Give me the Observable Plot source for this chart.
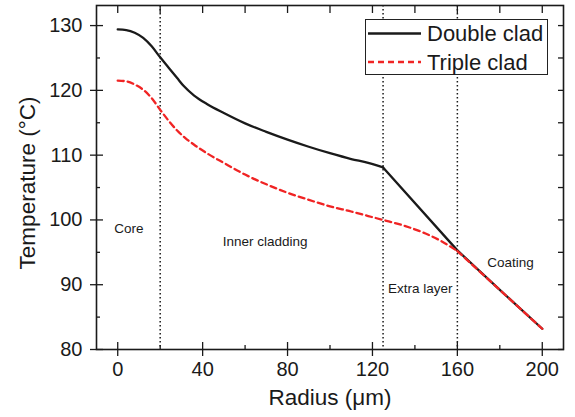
<!DOCTYPE html>
<html>
<head>
<meta charset="utf-8">
<script src="https://cdn.jsdelivr.net/npm/d3@7"></script>
<script src="https://cdn.jsdelivr.net/npm/@observablehq/plot@0.6"></script>
<style>
  html, body { margin: 0; padding: 0; background: white; }
  #wrap { position: relative; width: 575px; height: 417px; font-family: "Liberation Sans", Arial, sans-serif; }
  #legend { position: absolute; left: 365px; top: 19px; width: 183px; height: 56px; border: 1px solid #222; background: white; box-sizing: border-box; }
  #legend svg { position: absolute; left: 0; top: 0; }
</style>
</head>
<body>
<div id="wrap"></div>
<script>
// Double clad series
const doubleR = [0, 4, 8, 12, 16, 20, 24, 28, 31, 36, 42, 50, 60, 70, 80, 90, 100, 110, 118, 125, 160, 180, 200];
const doubleT = [129.4, 129.3, 128.9, 128.1, 126.8, 125.1, 123.5, 121.9, 120.7, 119.2, 117.9, 116.5, 114.9, 113.6, 112.4, 111.3, 110.3, 109.4, 108.8, 108.1, 95.3, 89.2, 83.2];
// Triple clad series
const tripleR = [0, 4, 8, 12, 16, 20, 24, 28, 32, 36, 42, 50, 60, 70, 80, 90, 100, 110, 118, 125, 135, 145, 152, 160, 180, 200];
const tripleT = [121.5, 121.4, 120.9, 120.1, 118.8, 117.0, 115.3, 113.8, 112.6, 111.6, 110.3, 108.8, 107.0, 105.5, 104.2, 103.1, 102.1, 101.3, 100.6, 100.0, 99.1, 97.9, 96.8, 95.2, 89.2, 83.2];
// Where each curve changes from smooth to straight (layer boundaries)
const doubleBreak = 125;
const tripleBreak = 160;
// Region boundaries and labels
const boundaries = [20, 125, 160];
const regionLabels = ["Core", "Inner cladding", "Extra layer", "Coating"];
const regionX = [5.2, 69.4, 142.5, 185];
const regionY = [98.7, 96.7, 89.4, 93.4];
// Ticks
const xMajor = [0, 40, 80, 120, 160, 200];
const xMinor = [20, 60, 100, 140, 180];
const yMajor = [80, 90, 100, 110, 120, 130];
const yMinor = [85, 95, 105, 115, 125];
const yAll = [80, 85, 90, 95, 100, 105, 110, 115, 120, 125, 130];
const xAll = [0, 20, 40, 60, 80, 100, 120, 140, 160, 180, 200];
const seriesNames = ["Double clad", "Triple clad"];

const doubleData = doubleR.map((r, i) => ({r, t: doubleT[i]}));
const tripleData = tripleR.map((r, i) => ({r, t: tripleT[i]}));
const regions = regionLabels.map((name, i) => ({name, x: regionX[i], y: regionY[i]}));

const ink = "#1a1a1a";
const red = "#f02424";

const chart = Plot.plot({
  width: 575,
  height: 417,
  marginLeft: 96,
  marginRight: 12,
  marginTop: 5,
  marginBottom: 68,
  x: {domain: [-10, 210]},
  y: {domain: [80, 133.1]},
  style: {fontFamily: "'Liberation Sans', Arial, sans-serif", color: ink, background: "white", overflow: "visible"},
  marks: [
    Plot.ruleX(boundaries, {stroke: ink, strokeWidth: 1.5, strokeDasharray: "1.5,2.5"}),
    Plot.line(doubleData.filter(d => d.r <= doubleBreak), {x: "r", y: "t", stroke: ink, strokeWidth: 2.3, curve: "monotone-x"}),
    Plot.line(doubleData.filter(d => d.r >= doubleBreak), {x: "r", y: "t", stroke: ink, strokeWidth: 2.3}),
    Plot.line(tripleData.filter(d => d.r <= tripleBreak), {x: "r", y: "t", stroke: red, strokeWidth: 2.3, strokeDasharray: "6,4", curve: "monotone-x"}),
    Plot.line(tripleData.filter(d => d.r >= tripleBreak), {x: "r", y: "t", stroke: red, strokeWidth: 2.3, strokeDasharray: "6,4"}),
    Plot.text(regions, {x: "x", y: "y", text: "name", fontSize: 13.5, fill: ink}),
    // bottom axis
    Plot.axisX(xMajor, {anchor: "bottom", tickSize: 0, tickPadding: 12, fontSize: 20, label: null, fill: ink}),
    Plot.axisX(xMajor, {anchor: "bottom", tickSize: 7, fill: "none", label: null, stroke: ink, strokeWidth: 1.3}),
    Plot.axisX(xMajor, {anchor: "bottom", tickSize: -7, fill: "none", label: null, stroke: ink, strokeWidth: 1.3}),
    Plot.axisX(xMinor, {anchor: "bottom", tickSize: -4, fill: "none", label: null, stroke: ink, strokeWidth: 1.3}),
    // top axis
    Plot.axisX(xAll, {anchor: "top", tickSize: -7, fill: "none", label: null, stroke: ink, strokeWidth: 1.3}),
    // left axis
    Plot.axisY(yMajor, {anchor: "left", tickSize: 0, tickPadding: 14, fontSize: 20, label: null, fill: ink}),
    Plot.axisY(yMajor, {anchor: "left", tickSize: 6, fill: "none", label: null, stroke: ink, strokeWidth: 1.3}),
    Plot.axisY(yMajor, {anchor: "left", tickSize: -7, fill: "none", label: null, stroke: ink, strokeWidth: 1.3}),
    Plot.axisY(yMinor, {anchor: "left", tickSize: -4, fill: "none", label: null, stroke: ink, strokeWidth: 1.3}),
    // right axis
    Plot.axisY(yAll, {anchor: "right", tickSize: -6, fill: "none", label: null, stroke: ink, strokeWidth: 1.3}),
    Plot.frame({stroke: ink, strokeWidth: 1.6}),
    // axis titles
    Plot.text(["Temperature (°C)"], {frameAnchor: "left", textAnchor: "middle", lineAnchor: "middle", rotate: -90, dx: -69, dy: 5.5, fontSize: 22.5, fill: ink}),
    Plot.text(["Radius (μm)"], {frameAnchor: "bottom", dy: 55, fontSize: 22.5, fill: ink})
  ]
});

const wrap = document.getElementById("wrap");
wrap.appendChild(chart);

// Legend overlay
const legend = document.createElement("div");
legend.id = "legend";
const ns = "http://www.w3.org/2000/svg";
const svg = document.createElementNS(ns, "svg");
svg.setAttribute("width", 183);
svg.setAttribute("height", 56);
const styles = [{stroke: ink, dash: null}, {stroke: red, dash: "6,4"}];
seriesNames.forEach((name, i) => {
  const y = 13.5 + i * 28.5;
  const line = document.createElementNS(ns, "line");
  line.setAttribute("x1", 2);
  line.setAttribute("x2", 55);
  line.setAttribute("y1", y);
  line.setAttribute("y2", y);
  line.setAttribute("stroke", styles[i].stroke);
  line.setAttribute("stroke-width", 2.3);
  if (styles[i].dash) line.setAttribute("stroke-dasharray", styles[i].dash);
  svg.appendChild(line);
  const text = document.createElementNS(ns, "text");
  text.setAttribute("x", 61);
  text.setAttribute("y", y);
  text.setAttribute("dy", "0.36em");
  text.setAttribute("font-size", 22);
  text.setAttribute("font-family", "'Liberation Sans', Arial, sans-serif");
  text.setAttribute("fill", ink);
  text.textContent = name;
  svg.appendChild(text);
});
legend.appendChild(svg);
wrap.appendChild(legend);
</script>
</body>
</html>
